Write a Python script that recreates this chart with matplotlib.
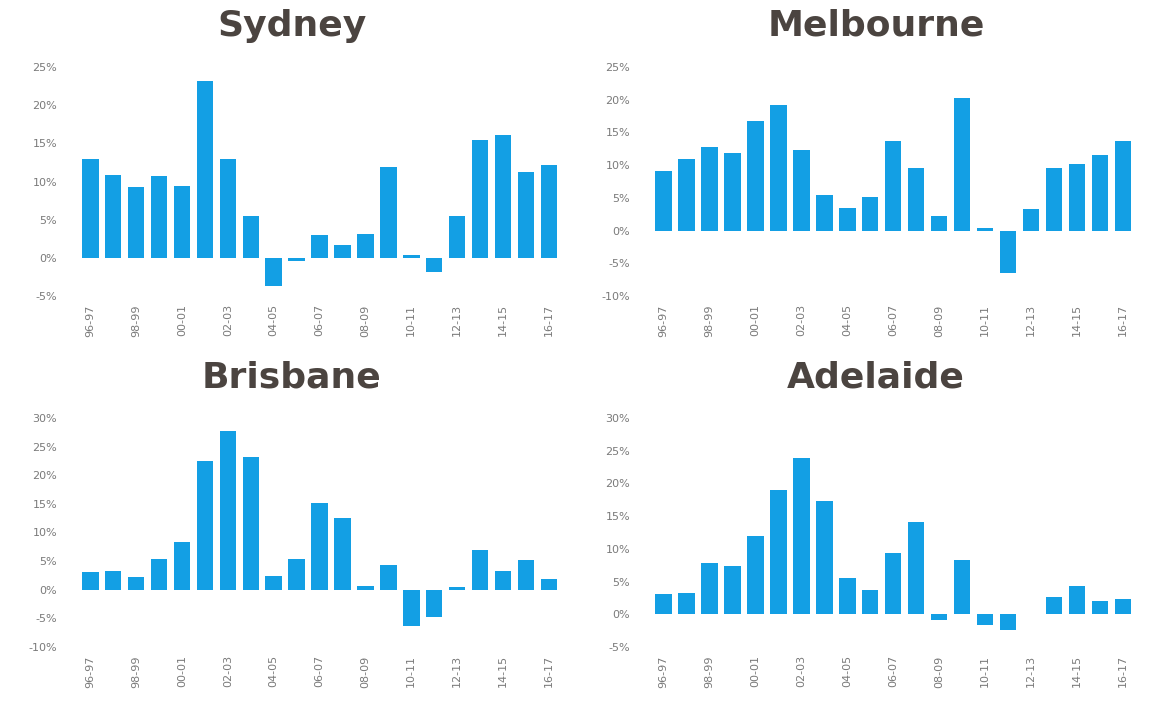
import matplotlib
matplotlib.use("Agg")
import matplotlib.pyplot as plt
from matplotlib.ticker import FuncFormatter

years = ["96-97", "97-98", "98-99", "99-00", "00-01", "01-02", "02-03", "03-04",
         "04-05", "05-06", "06-07", "07-08", "08-09", "09-10", "10-11", "11-12",
         "12-13", "13-14", "14-15", "15-16", "16-17"]

sydney = [13.0, 10.9, 9.3, 10.7, 9.4, 23.2, 13.0, 5.5, -3.7, -0.4, 3.0,
          1.7, 3.1, 11.9, 0.4, -1.9, 5.5, 15.4, 16.1, 11.2, 12.1]
melbourne = [9.1, 10.9, 12.8, 11.9, 16.7, 19.2, 12.3, 5.5, 3.4, 5.1, 13.7,
             9.6, 2.2, 20.3, 0.4, -6.5, 3.3, 9.5, 10.2, 11.5, 13.7]
brisbane = [3.1, 3.3, 2.2, 5.3, 8.3, 22.5, 27.8, 23.2, 2.4, 5.3, 15.1,
            12.5, 0.7, 4.3, -6.3, -4.7, 0.5, 6.9, 3.3, 5.2, 1.9]
adelaide = [3.1, 3.3, 7.8, 7.4, 11.9, 19.0, 23.9, 17.3, 5.5, 3.7, 9.3,
            14.1, -0.9, 8.3, -1.7, -2.4, 0.1, 2.7, 4.3, 2.0, 2.3]

cities = ["Sydney", "Melbourne", "Brisbane", "Adelaide"]
series = [sydney, melbourne, brisbane, adelaide]
ylims = [(-5, 25), (-10, 25), (-10, 30), (-5, 30)]

# axes boxes in figure fractions [left, bottom, width, height]
boxes = [[0.066, 0.5795, 0.419, 0.3253],
         [0.560, 0.5795, 0.420, 0.3253],
         [0.066, 0.081, 0.419, 0.3253],
         [0.560, 0.081, 0.420, 0.3253]]
title_pos = [(0.2517, 0.949), (0.7552, 0.950), (0.2517, 0.450), (0.7552, 0.450)]

bar_color = "#139fe4"
text_grey = "#7a7a7a"

fig = plt.figure(figsize=(11.6, 7.04), dpi=100)

for i in range(4):
    ax = fig.add_axes(boxes[i])
    x = list(range(len(years)))
    ax.bar(x, series[i], width=0.72, color=bar_color)
    lo, hi = ylims[i]
    ax.set_ylim(lo, hi)
    ax.set_yticks(list(range(lo, hi + 1, 5)))
    ax.yaxis.set_major_formatter(FuncFormatter(lambda v, p: f"{int(v)}%"))
    ax.set_xlim(-0.6, len(years) - 0.4)
    ax.set_xticks(x[::2])
    ax.set_xticklabels(years[::2], rotation=90)
    for s in ax.spines.values():
        s.set_visible(False)
    ax.tick_params(length=0, colors=text_grey, labelsize=8)
    ax.tick_params(axis="y", pad=14)
    ax.tick_params(axis="x", pad=6)
    fig.text(title_pos[i][0], title_pos[i][1], cities[i], ha="center", va="baseline",
             fontsize=26, fontweight="bold", color="#4b4440", family="DejaVu Sans")

fig.savefig("out.png", dpi=100, facecolor="white")
